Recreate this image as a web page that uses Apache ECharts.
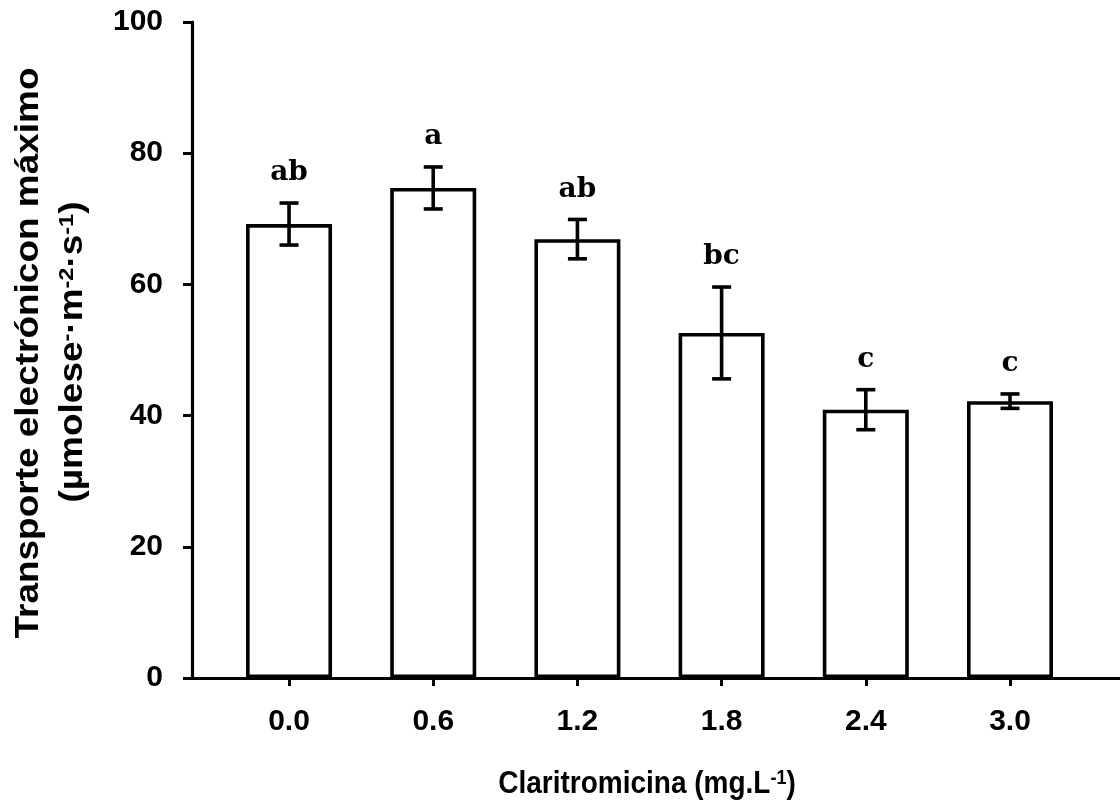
<!DOCTYPE html>
<html>
<head>
<meta charset="utf-8">
<script src="https://cdn.jsdelivr.net/npm/echarts@6/dist/echarts.min.js"></script>
<style>html,body{margin:0;padding:0;background:#fff;}#main{width:1120px;height:806px;}</style>
</head>
<body>
<div id="main"></div>
<script>
const categories = ['0.0', '0.6', '1.2', '1.8', '2.4', '3.0'];
const means = [69.2, 74.7, 66.9, 52.6, 40.9, 42.2];
const errors = [3.2, 3.2, 3.0, 7.0, 3.05, 1.1];
const letters = ['ab', 'a', 'ab', 'bc', 'c', 'c'];
const xTitle = '{n|Claritromicina (mg.L}{sup|-1}{n|)}';
const yTitle1 = 'Transporte electrónicon máximo';
const yTitle2 = '{n|(µmolese}{sup|-}{n|·m}{sup|-2}{n|·s}{sup|-1}{n|)}';

const positions = categories.map((c, i) => i);
const barData = means.map((m, i) => [positions[i], m]);
const errData = means.map((m, i) => [positions[i], m, errors[i]]);

const chart = echarts.init(document.getElementById('main'), null, {renderer: 'canvas'});
const FONT = '"Liberation Sans", Arial, sans-serif';

function richStyles(size, supSize) {
  return {
    n: {fontSize: size, fontWeight: 'bold', fontFamily: FONT, fill: '#000', color: '#000'},
    sup: {fontSize: supSize, fontWeight: 'bold', fontFamily: FONT, fill: '#000', color: '#000', verticalAlign: 'top'}
  };
}

chart.setOption({
  animation: false,
  backgroundColor: '#fff',
  grid: {left: 192, right: 0, top: 22, bottom: 128, containLabel: false},
  xAxis: {
    type: 'value',
    min: -0.673,
    max: 5.763,
    splitLine: {show: false},
    axisLine: {show: true, onZero: false, lineStyle: {color: '#000', width: 3.2}},
    axisTick: {show: true, length: 8, lineStyle: {color: '#000', width: 3}, customValues: positions},
    axisLabel: {
      customValues: positions,
      margin: 29,
      formatter: v => categories[Math.round(v)],
      color: '#000', fontFamily: FONT, fontWeight: 'bold', fontSize: 30
    }
  },
  yAxis: {
    type: 'value',
    min: 0, max: 100, interval: 20,
    splitLine: {show: false},
    axisLine: {show: true, onZero: false, lineStyle: {color: '#000', width: 3.2}},
    axisTick: {show: true, length: 9, lineStyle: {color: '#000', width: 3}},
    axisLabel: {
      margin: 29,
      formatter: v => String(v),
      color: '#000', fontFamily: FONT, fontWeight: 'bold', fontSize: 30
    }
  },
  graphic: [
    {
      type: 'text', x: 647, y: 784, scaleY: 1.12,
      style: {text: xTitle, align: 'center', verticalAlign: 'middle', fill: '#000',
              fontFamily: FONT, fontWeight: 'bold', fontSize: 28, rich: richStyles(28, 18)}
    },
    {
      type: 'text', x: 29, y: 353, rotation: Math.PI / 2, scaleX: 1.12,
      style: {text: yTitle1, align: 'center', verticalAlign: 'middle', fill: '#000',
              fontFamily: FONT, fontWeight: 'bold', fontSize: 33}
    },
    {
      type: 'text', x: 73, y: 352, rotation: Math.PI / 2, scaleX: 1.12,
      style: {text: yTitle2, align: 'center', verticalAlign: 'middle', fill: '#000',
              fontFamily: FONT, fontWeight: 'bold', fontSize: 33, rich: richStyles(33, 21)}
    }
  ],
  series: [
    {
      type: 'bar',
      data: barData,
      barWidth: 86,
      itemStyle: {color: '#fff', borderColor: '#000', borderWidth: 3.6},
      z: 2
    },
    {
      type: 'custom',
      data: errData,
      z: 3,
      renderItem: function (params, api) {
        const x = api.value(0), m = api.value(1), e = api.value(2);
        const top = api.coord([x, m + e]);
        const bot = api.coord([x, m - e]);
        const hw = 9.5;
        const ls = {stroke: '#000', lineWidth: 3.6};
        return {
          type: 'group',
          children: [
            {type: 'line', shape: {x1: top[0], y1: top[1], x2: bot[0], y2: bot[1]}, style: ls},
            {type: 'line', shape: {x1: top[0] - hw, y1: top[1], x2: top[0] + hw, y2: top[1]}, style: ls},
            {type: 'line', shape: {x1: bot[0] - hw, y1: bot[1], x2: bot[0] + hw, y2: bot[1]}, style: ls},
            {type: 'text', style: {
              text: letters[params.dataIndex], x: top[0], y: top[1] - 30,
              align: 'center', verticalAlign: 'middle',
              fontFamily: '"DejaVu Serif", serif', fontWeight: 'bold', fontSize: 28, fill: '#000'
            }}
          ]
        };
      }
    }
  ]
});
</script>
</body>
</html>
